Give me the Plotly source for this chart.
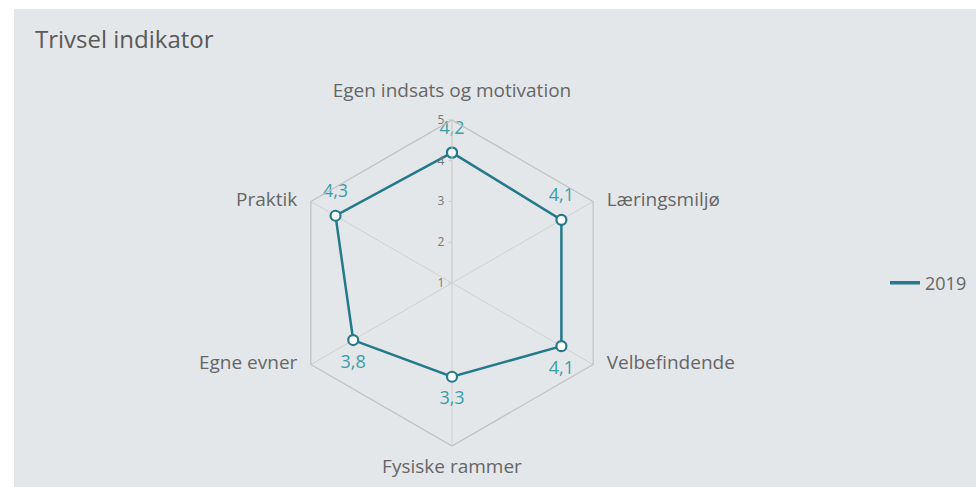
import plotly.graph_objects as go

categories = ["Egen indsats og motivation", "Læringsmiljø", "Velbefindende",
              "Fysiske rammer", "Egne evner", "Praktik"]
values_2019 = [4.2, 4.1, 4.1, 3.3, 3.8, 4.3]
label_pos = ["top center", "top center", "bottom center",
             "bottom center", "bottom center", "top center"]
category_pos = ["top center", "middle right", "middle right",
                "bottom center", "middle left", "middle left"]
radial_ticks = [1, 2, 3, 4, 5]
series_name = "2019"

W, H = 976, 487
cx, cy, R = 452, 283, 163

line_color = "#237a8b"
text_color = "#3a9ea8"
bg = "#e4e7ea"

theta = categories + [categories[0]]
r = values_2019 + [values_2019[0]]
texts = [f"{v:.1f}".replace(".", ",") for v in values_2019]
r_max = radial_ticks[-1]

fig = go.Figure()
# series line + markers
fig.add_trace(go.Scatterpolar(
    r=r, theta=theta, mode="lines+markers",
    name=series_name, showlegend=False, hoverinfo="skip",
    line=dict(color=line_color, width=2.5),
    marker=dict(size=10, color="white", line=dict(color=line_color, width=2.2)),
    cliponaxis=False,
))
# data labels (invisible spacer markers give the offset)
fig.add_trace(go.Scatterpolar(
    r=values_2019, theta=categories, mode="markers+text",
    text=texts, textposition=label_pos, showlegend=False, hoverinfo="skip",
    textfont=dict(color=text_color, size=18, family="Open Sans"),
    marker=dict(size=21, color="rgba(0,0,0,0)", line=dict(width=0)),
    cliponaxis=False,
))
# category labels at the outer ring
fig.add_trace(go.Scatterpolar(
    r=[r_max] * len(categories), theta=categories, mode="markers+text",
    text=categories, textposition=category_pos, showlegend=False,
    hoverinfo="skip",
    textfont=dict(color="#666666", size=19, family="Open Sans"),
    marker=dict(size=[28, 20, 20, 18, 20, 20], color="rgba(0,0,0,0)",
                line=dict(width=0)),
    cliponaxis=False,
))
# legend entry (line only)
fig.add_trace(go.Scatterpolar(
    r=[None], theta=[categories[0]], mode="lines", name=series_name,
    line=dict(color=line_color, width=3.5), showlegend=True,
))

fig.update_layout(
    width=W, height=H,
    margin=dict(l=0, r=0, t=0, b=0),
    paper_bgcolor="white",
    font=dict(family="Open Sans", color="#666666"),
    title=dict(text="Trivsel indikator", x=35 / W, xanchor="left",
               y=1 - 40 / H, yanchor="middle",
               font=dict(size=24, color="#595959", family="Open Sans")),
    shapes=[dict(type="rect", xref="paper", yref="paper",
                 x0=14 / W, x1=1.01, y0=-0.01, y1=1 - 9 / H,
                 fillcolor=bg, line=dict(width=0), layer="below")],
    showlegend=True,
    legend=dict(x=885 / W, y=1 - 283 / H, xanchor="left", yanchor="middle",
                bgcolor="rgba(0,0,0,0)", itemwidth=30,
                font=dict(size=18, color="#666666")),
    polar=dict(
        domain=dict(x=[(cx - R) / W, (cx + R) / W],
                    y=[1 - (cy + R) / H, 1 - (cy - R) / H]),
        bgcolor="rgba(0,0,0,0)",
        gridshape="linear",
        angularaxis=dict(direction="clockwise", rotation=90,
                         showline=True, linecolor="#bfbfbf", linewidth=1.2,
                         showgrid=True, gridcolor="#d0d0d0", gridwidth=1,
                         ticks="", showticklabels=False),
        radialaxis=dict(range=[1, r_max], tickvals=radial_ticks, angle=90,
                        side="counterclockwise",
                        tickangle=90, showgrid=False, showline=True,
                        linecolor="#d0d0d0", ticks="outside", ticklen=3,
                        tickcolor="#c8c8c8",
                        tickfont=dict(size=12, color="#777777")),
    ),
)

fig.write_html("out.html", config={"displayModeBar": False},
               post_script="document.body.style.margin='0';")
